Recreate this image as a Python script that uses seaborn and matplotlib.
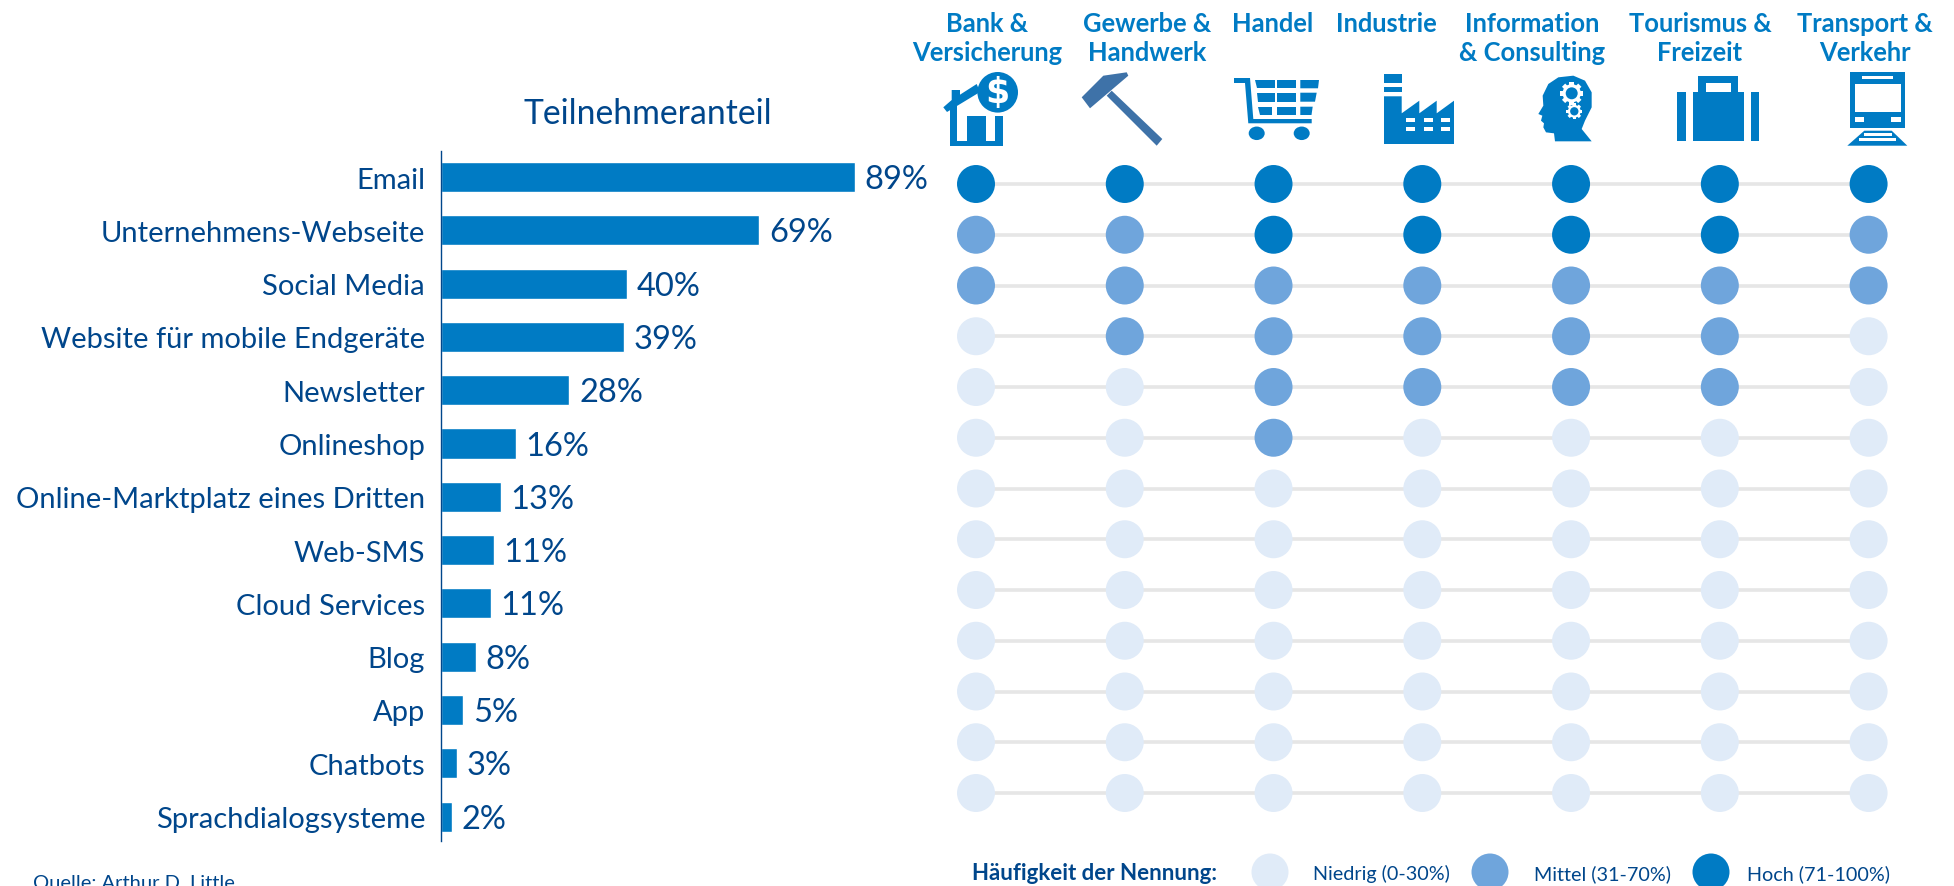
import numpy as np
import pandas as pd
import matplotlib
matplotlib.use('Agg')
import matplotlib.pyplot as plt
from matplotlib.patches import Circle, Ellipse, Polygon, Rectangle
import seaborn as sns

# Values
channels = ['Email', 'Unternehmens-Webseite', 'Social Media', 'Website für mobile Endgeräte',
            'Newsletter', 'Onlineshop', 'Online-Marktplatz eines Dritten', 'Web-SMS',
            'Cloud Services', 'Blog', 'App', 'Chatbots', 'Sprachdialogsysteme']
share = [89, 69, 40, 39, 28, 16, 13, 11, 11, 8, 5, 3, 2]
# the drawn bars are not exactly the printed percentages
bar_lengths = [89, 68.4, 39.9, 39.4, 27.6, 16.1, 12.9, 11.3, 10.7, 7.5, 4.8, 3.5, 2.4]

sectors = ['Bank &\nVersicherung', 'Gewerbe &\nHandwerk', 'Handel', 'Industrie',
           'Information\n& Consulting', 'Tourismus &\nFreizeit', 'Transport &\nVerkehr']
# 0 = Niedrig, 1 = Mittel, 2 = Hoch
bank = [2, 1, 1, 0, 0, 0, 0, 0, 0, 0, 0, 0, 0]
gewerbe = [2, 1, 1, 1, 0, 0, 0, 0, 0, 0, 0, 0, 0]
handel = [2, 2, 1, 1, 1, 1, 0, 0, 0, 0, 0, 0, 0]
industrie = [2, 2, 1, 1, 1, 0, 0, 0, 0, 0, 0, 0, 0]
information = [2, 2, 1, 1, 1, 0, 0, 0, 0, 0, 0, 0, 0]
tourismus = [2, 2, 1, 1, 1, 0, 0, 0, 0, 0, 0, 0, 0]
transport = [2, 1, 1, 0, 0, 0, 0, 0, 0, 0, 0, 0, 0]
legend_labels = ['Niedrig (0-30%)', 'Mittel (31-70%)', 'Hoch (71-100%)']

BLUE = '#007BC4'
MID = '#6FA5DC'
LIGHT = '#E0EBF8'
NAVY = '#00468B'
HAMMER = '#3E72A8'
W, H = 1954, 887

sns.set_style('white')
plt.rcParams['font.family'] = ['Lato', 'DejaVu Sans']

fig = plt.figure(figsize=(W / 100, H / 100), dpi=100, facecolor='white')


def px_axes(left, top, right, bottom):
    return fig.add_axes([left / W, 1 - bottom / H, (right - left) / W, (bottom - top) / H])


# Bars
ax = px_axes(441, 152, 906, 842)
bars = pd.DataFrame({'channel': channels, 'length': bar_lengths})
sns.barplot(data=bars, x='length', y='channel', color=BLUE, saturation=1, width=0.563, ax=ax)
ax.set_xlim(0, 100)
ax.set_ylim(12.458, -0.488)
ax.set_xlabel('')
ax.set_ylabel('')
ax.set_xticks([])
ax.tick_params(axis='y', length=0, pad=11.5, labelsize=21, labelcolor=NAVY)
sns.despine(ax=ax, top=True, right=True, bottom=True)
ax.spines['left'].set_color(NAVY)
ax.spines['left'].set_linewidth(1.0)
ax.patch.set_alpha(0)
value_labels = ax.bar_label(ax.containers[0], labels=[f'{v}%' for v in share], padding=7,
                            fontsize=23.5, color=NAVY)
for t in value_labels:
    t.xyann = (7, -1.5)

# Dot matrix
ax2 = px_axes(976, 185, 1868.6, 794)
levels = pd.DataFrame([bank, gewerbe, handel, industrie, information, tourismus, transport],
                      columns=range(len(channels)))
levels['sector'] = range(len(sectors))
dots = levels.melt(id_vars='sector', var_name='row', value_name='level')
ax2.hlines(range(len(channels)), 0, len(sectors) - 1, color='#E6E6E6', linewidth=2.6, zorder=1,
           clip_on=False)
sns.scatterplot(data=dots, x='sector', y='row', hue='level',
                palette={0: LIGHT, 1: MID, 2: BLUE}, s=748, linewidth=0,
                legend=False, clip_on=False, zorder=3, ax=ax2)
ax2.set_xlim(0, len(sectors) - 1)
ax2.set_ylim(len(channels) - 1, 0)
ax2.axis('off')

# Overlay in pixel coordinates for headers, icons and the legend
ov = fig.add_axes([0, 0, 1, 1])
ov.set_xlim(0, W)
ov.set_ylim(H, 0)
ov.axis('off')
ov.patch.set_alpha(0)


def rect(x0, y0, x1, y1, color=BLUE):
    ov.add_patch(Rectangle((x0, y0), x1 - x0, y1 - y0, facecolor=color, edgecolor='none'))


def poly(points, color=BLUE):
    ov.add_patch(Polygon(points, closed=True, facecolor=color, edgecolor='none'))


def circ(x, y, r, color=BLUE):
    ov.add_patch(Circle((x, y), r, facecolor=color, edgecolor='none'))


def gear(x, y, r, teeth=8):
    # white cog with a blue hole
    circ(x, y, r * 0.8, 'white')
    for a in np.arange(teeth) * 2 * np.pi / teeth:
        c, s = np.cos(a), np.sin(a)
        w = r * 0.2
        poly([(x + r * 0.7 * c - w * s, y + r * 0.7 * s + w * c),
              (x + r * c - w * s, y + r * s + w * c),
              (x + r * c + w * s, y + r * s - w * c),
              (x + r * 0.7 * c + w * s, y + r * 0.7 * s - w * c)], 'white')
    circ(x, y, r * 0.52)


ov.text(648, 114, 'Teilnehmeranteil', fontsize=24.3, color=NAVY, ha='center', va='center')

header_x = [987, 1147, 1273, 1386, 1532, 1700, 1865]
for name, x in zip(sectors, header_x):
    ov.text(x, 12, name, fontsize=18.4, fontweight='bold', color=BLUE, ha='center', va='top',
            linespacing=1.25)

# Bank icon
poly([(943.3, 108.3), (951.7, 101), (951.7, 91), (960, 91), (960, 95.7), (976.7, 85),
      (980, 93), (947, 113)])
rect(950, 107, 957, 147)
rect(950, 142, 1003, 147)
rect(967, 117, 986, 147)
rect(995, 117, 1003, 147)
circ(997.7, 93.3, 20.3)
ov.text(997.7, 93.3, '$', fontsize=25, fontweight='bold', color='white', ha='center',
        va='center', family='DejaVu Sans')

# Hammer icon
poly([(1111.7, 91.7), (1106.7, 96.7), (1156.7, 146.7), (1162.3, 140)], HAMMER)
poly([(1081.7, 98.3), (1103.3, 76.7), (1126.7, 73.3), (1128.3, 76.7), (1090, 109.3)], HAMMER)

# Cart icon
poly([(1234, 79), (1250, 79), (1253.3, 120), (1311.7, 120), (1311.7, 124.3), (1248.3, 124.3),
      (1245, 84), (1234, 84)])
poly([(1255, 81), (1275, 81), (1275, 89.3), (1257, 89.3)])
poly([(1276.7, 81), (1295.7, 81), (1295.7, 89.3), (1276.7, 89.3)])
poly([(1300.3, 81), (1319, 81), (1318, 89.3), (1300.3, 89.3)])
poly([(1257, 93.7), (1275, 93.7), (1275, 102.7), (1258, 102.7)])
poly([(1276.7, 93.7), (1295.7, 93.7), (1295.7, 102.7), (1276.7, 102.7)])
poly([(1300.3, 93.7), (1316.7, 93.7), (1315, 102.7), (1300.3, 102.7)])
poly([(1258.3, 107.7), (1272.3, 107.7), (1272.3, 116), (1259.5, 116)])
poly([(1276.7, 107.7), (1295.7, 107.7), (1295.7, 116), (1276.7, 116)])
poly([(1300.3, 107.7), (1312.7, 107.7), (1311.5, 116), (1300.3, 116)])
ov.add_patch(Ellipse((1256.7, 134.3), 16, 13.5, facecolor=BLUE, edgecolor='none'))
ov.add_patch(Ellipse((1301.7, 134.3), 16, 13.5, facecolor=BLUE, edgecolor='none'))

# Factory icon
poly([(1384, 145), (1384, 97.3), (1401.7, 97.3), (1401.7, 114.3), (1419.3, 101.7), (1419.3, 114.3),
      (1436.7, 101.7), (1436.7, 114.3), (1454, 101.7), (1454, 145)])
rect(1384, 75, 1401.7, 84)
rect(1384, 88.3, 1401.7, 92.7)
for wx in [1406, 1423.7, 1441]:
    for wy in [119.3, 127.7]:
        rect(wx, wy, wx + 8.8, wy + 4, 'white')

# Head icon
head = [(25, 150), (40, 125), (38, 95), (55, 60), (85, 40), (130, 35), (165, 50), (185, 85),
        (185, 130), (165, 170), (155, 195), (185, 232), (75, 232), (72, 208), (48, 205),
        (40, 190), (42, 178), (33, 170), (37, 155)]
poly([(1530 + hx / 3, 65 + hy / 3) for hx, hy in head])
gear(1571.7, 94.3, 11.5)
gear(1574.3, 112.3, 8)

# Suitcase icon
rect(1692.7, 92.7, 1744, 142.3)
rect(1677, 92.7, 1685.7, 142.3)
rect(1750.7, 92.7, 1759, 142.3)
rect(1697.7, 77.3, 1738.3, 92.7)
rect(1705.7, 84.3, 1731, 92.7, 'white')

# Train icon
rect(1850, 73, 1905, 129)
rect(1861.7, 77, 1893.3, 80.3, 'white')
rect(1855, 85, 1901, 113.3, 'white')
rect(1855, 118.3, 1864.3, 123.3, 'white')
rect(1891, 118.3, 1900.7, 123.3, 'white')
poly([(1864.3, 131.7), (1891.7, 131.7), (1907.3, 146.7), (1847.3, 146.7)])
rect(1864, 134.3, 1892, 136.7, 'white')
rect(1859, 139, 1896, 141.5, 'white')

# Legend
ov.text(972, 874, 'Häufigkeit der Nennung:', fontsize=16, fontweight='bold', color=NAVY,
        ha='left', va='center')
for x, tx, col, lab in zip([1270, 1490, 1711], [1313, 1534, 1747], [LIGHT, MID, BLUE], legend_labels):
    circ(x, 873, 18.5, col)
    ov.text(tx, 874, lab, fontsize=14.2, color=NAVY, ha='left', va='center')

ov.text(33, 884, 'Quelle: Arthur D. Little', fontsize=14.5, color=NAVY, ha='left', va='center',
        clip_on=False)

plt.savefig('out.png', dpi=100, facecolor='white')
